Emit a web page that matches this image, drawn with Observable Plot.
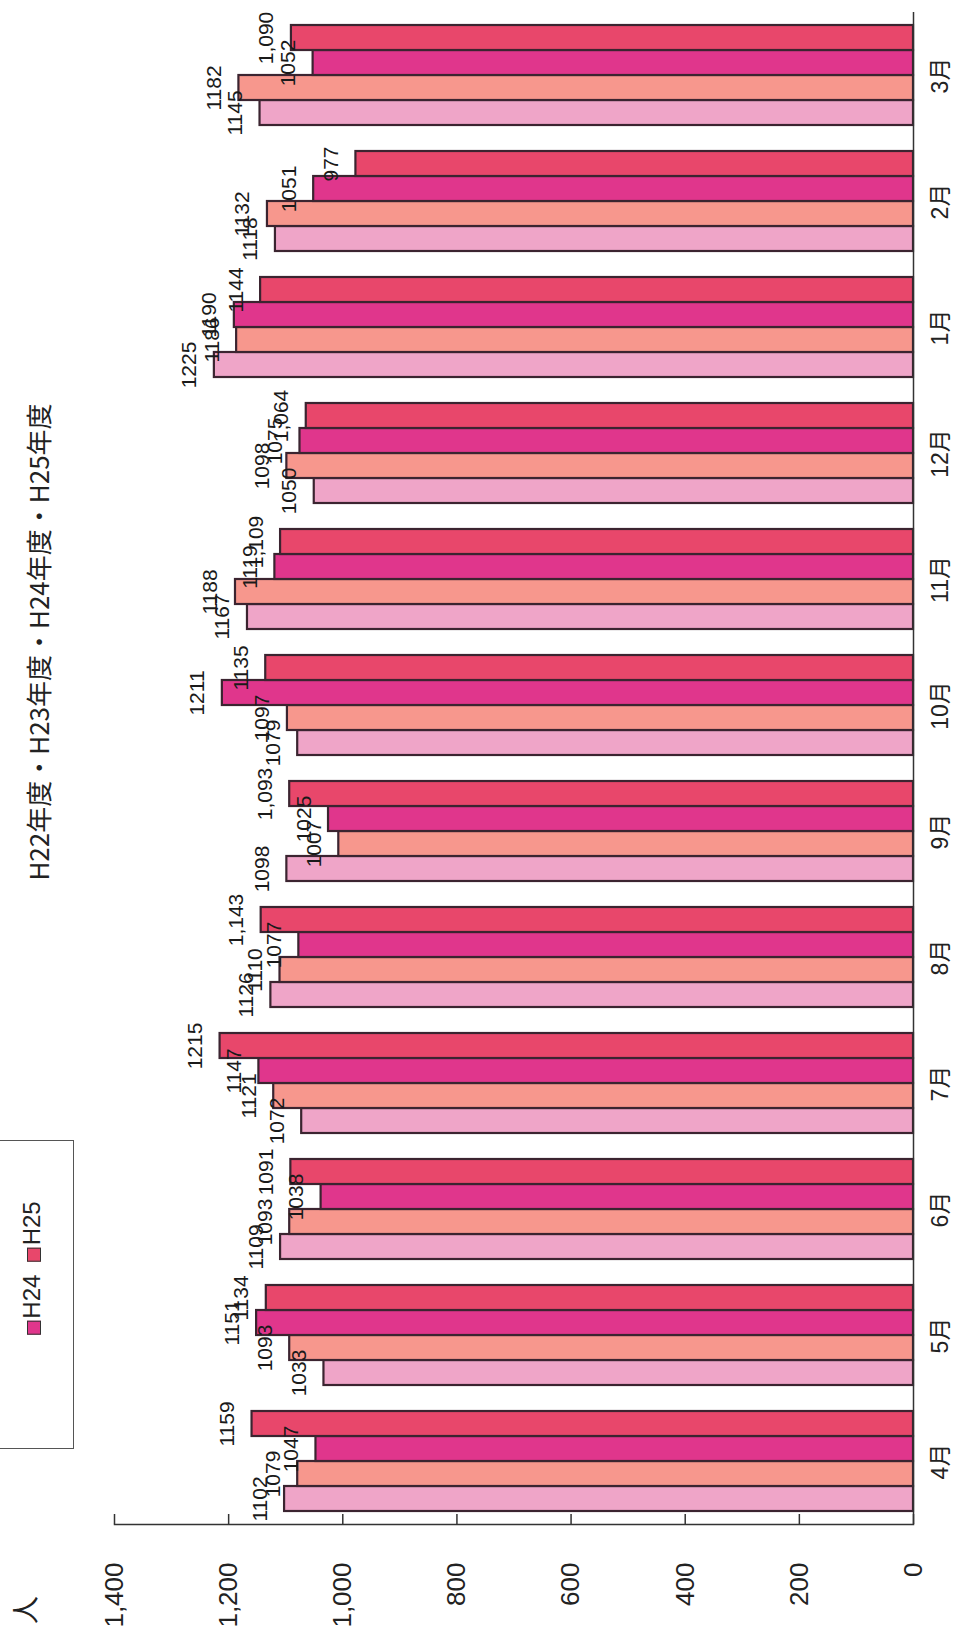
<!DOCTYPE html>
<html><head><meta charset="utf-8">
<script src="https://cdn.jsdelivr.net/npm/d3@7"></script>
<script src="https://cdn.jsdelivr.net/npm/@observablehq/plot@0.6"></script>
<style>
body{margin:0;background:#fff;}
#wrap{position:relative;width:967px;height:1643px;overflow:hidden;background:#fff;}
#chart{position:absolute;left:0;top:0;}
.rot{position:absolute;white-space:nowrap;transform:translate(-50%,-50%) rotate(-90deg);transform-origin:center;color:#222;}
#legendBox{position:absolute;left:-10px;top:1140px;width:84px;height:309px;border:1.5px solid #555;box-sizing:border-box;}
.sw{display:inline-block;width:14px;height:14px;border:1.5px solid #333;box-sizing:border-box;margin-right:2px;vertical-align:-1px;}
</style></head><body>
<div id="wrap">
  <div id="chart"></div>
  <div id="title" class="rot" style="left:37px;top:642px;font-size:26px;font-family:'Noto Sans CJK JP',sans-serif;">H22年度・H23年度・H24年度・H25年度</div>
  <div id="legendBox"></div>
  <div id="legend" class="rot" style="left:32px;top:1268px;font-size:24px;font-family:'Liberation Sans','Noto Sans CJK JP',sans-serif;"></div>
  <div id="unit" class="rot" style="left:24px;top:1610px;font-size:28px;font-family:'Noto Sans CJK JP',sans-serif;">人</div>
</div>
<script>
const months = ["4月","5月","6月","7月","8月","9月","10月","11月","12月","1月","2月","3月"];
const series = ["H22","H23","H24","H25"];
const h22 = [1102,1033,1109,1072,1126,1098,1079,1167,1050,1225,1118,1145];
const h23 = [1079,1093,1093,1121,1110,1007,1097,1188,1098,1186,1132,1182];
const h24 = [1047,1151,1038,1147,1077,1025,1211,1119,1075,1190,1051,1052];
const h25 = [1159,1134,1091,1215,1143,1093,1135,1109,1064,1144,977,1090];
const commaMonthsH25 = ["8月","9月","11月","12月","3月"];
const xTicks = [0,200,400,600,800,1000,1200,1400];
const colors = ["#EFA5C8","#F7978D","#E0368C","#E8476B"];
const legendShown = ["H24","H25"];

const bySeries = {H22: h22, H23: h23, H24: h24, H25: h25};
const fmt = d3.format(",");
const data = [];
for (const s of series) {
  months.forEach((m, i) => {
    const v = bySeries[s][i];
    const comma = s === "H25" && commaMonthsH25.includes(m);
    data.push({month: m, series: s, value: v, label: comma ? fmt(v) : String(v)});
  });
}

const font = "'Liberation Sans',Arial,'Noto Sans CJK JP',sans-serif";

const chart = Plot.plot({
  width: 967,
  height: 1643,
  marginTop: 7,
  marginBottom: 114,
  marginLeft: 114,
  marginRight: 54,
  style: {fontFamily: font, fontSize: "21px", color: "#222", background: "transparent", overflow: "visible"},
  x: {domain: [0, 1400], reverse: true, axis: null},
  y: {domain: ["H25","H24","H23","H22"], paddingInner: 0, paddingOuter: 0.462, axis: null},
  fy: {domain: months.slice().reverse(), padding: 0, axis: null},
  color: {domain: series, range: colors},
  marks: [
    Plot.barX(data, {fy: "month", y: "series", x: "value", fill: "series", stroke: "#3b2430", strokeWidth: 2.2}),
    Plot.ruleX([0], {stroke: "#333", strokeWidth: 1.5}),
    Plot.frame({anchor: "bottom", facetAnchor: "bottom", stroke: "#333", strokeWidth: 1.5}),
    Plot.text(data, {fy: "month", y: "series", x: "value", text: "label", rotate: -90, textAnchor: "middle", lineAnchor: "bottom", dx: -18, fontSize: 21, fill: "#1a1a1a"}),
    Plot.axisX({anchor: "bottom", ticks: xTicks, tickFormat: fmt, tickRotate: -90, tickSize: 0, tickPadding: 38, fontSize: 26, label: null}),
    Plot.axisX({anchor: "bottom", ticks: xTicks, tickSize: -10, fill: "none", stroke: "#333", strokeWidth: 1.5, label: null}),
    Plot.axisFy({anchor: "right", tickSize: 0, tickPadding: 34, tickRotate: -90, fontSize: 23, label: null})
  ]
});
document.getElementById("chart").appendChild(chart);

const lg = document.getElementById("legend");
legendShown.forEach((s, k) => {
  const sw = document.createElement("span");
  sw.className = "sw";
  sw.style.background = colors[series.indexOf(s)];
  lg.appendChild(sw);
  lg.appendChild(document.createTextNode(s + (k < legendShown.length - 1 ? "\u00a0\u00a0" : "")));
});
</script>
</body></html>
